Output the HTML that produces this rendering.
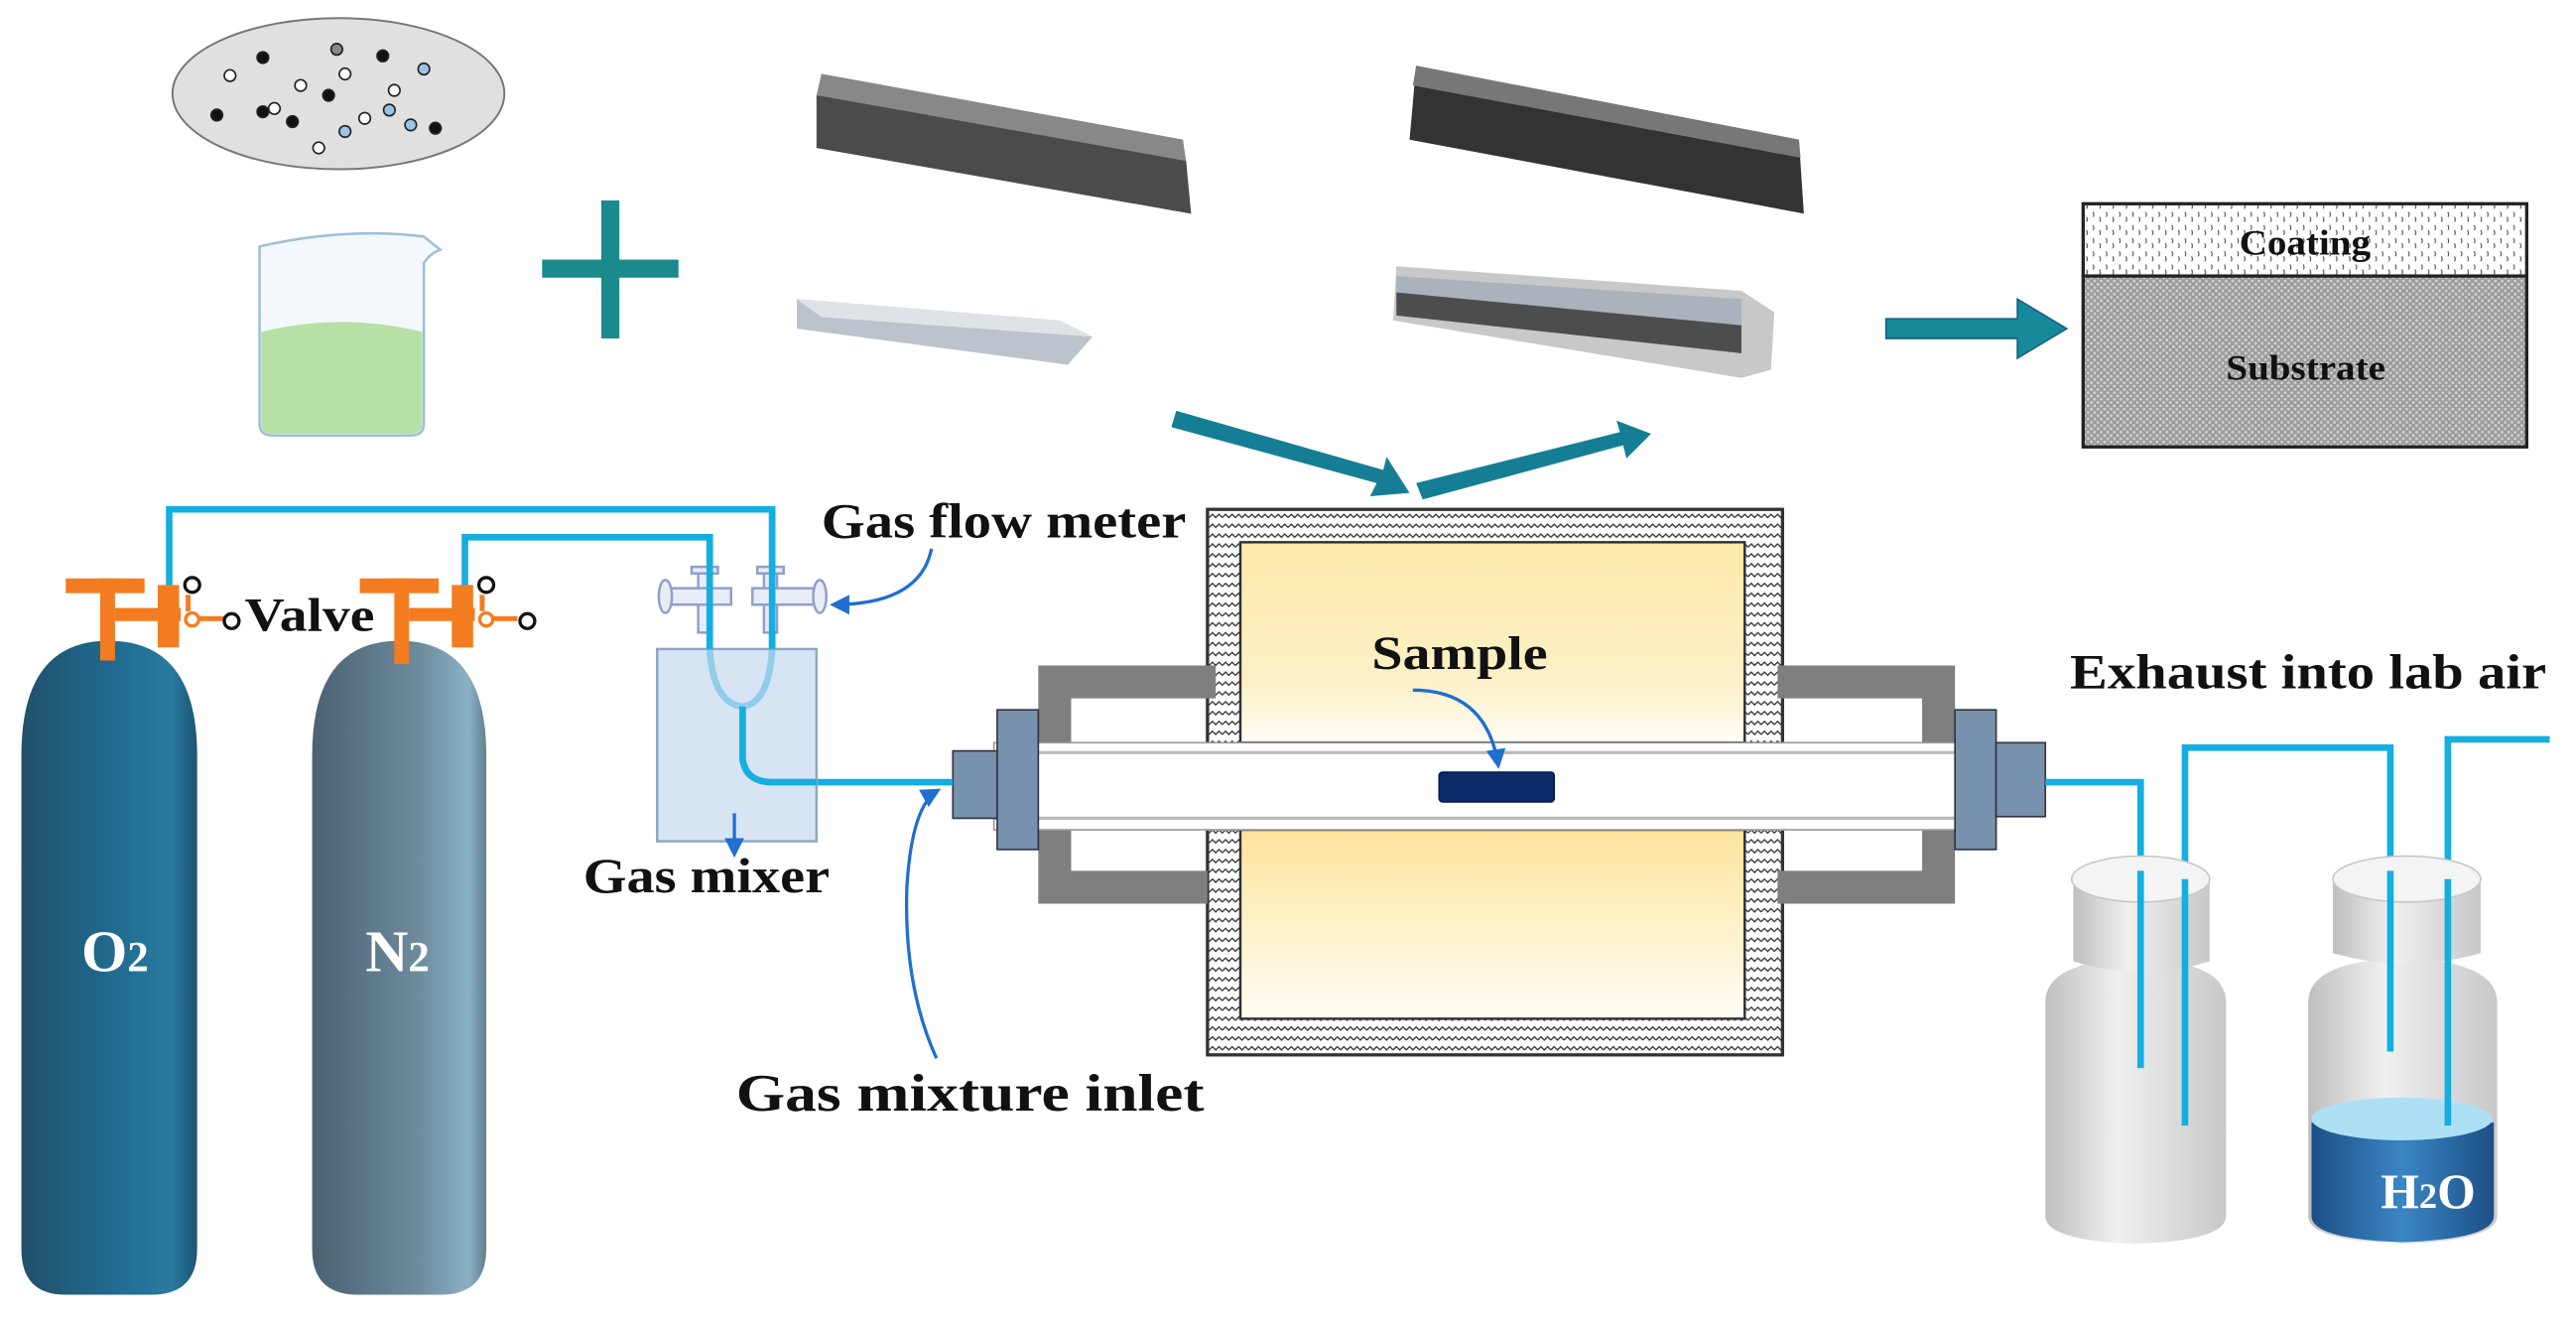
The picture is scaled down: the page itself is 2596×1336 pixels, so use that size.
<!DOCTYPE html>
<html><head><meta charset="utf-8"><style>html,body{margin:0;padding:0;background:#fff}svg{display:block}</style></head>
<body>
<svg width="2596" height="1336" viewBox="0 0 1568 807" preserveAspectRatio="none" xmlns="http://www.w3.org/2000/svg" font-family="Liberation Serif, serif" font-weight="bold">
<defs>
<linearGradient id="o2" x1="0" x2="1"><stop offset="0" stop-color="#22506a"/><stop offset="0.5" stop-color="#1f6a8e"/><stop offset="0.85" stop-color="#2a7aa0"/><stop offset="1" stop-color="#1c5574"/></linearGradient>
<linearGradient id="n2" x1="0" x2="1"><stop offset="0" stop-color="#4a6272"/><stop offset="0.6" stop-color="#6d8a9c"/><stop offset="0.9" stop-color="#8ab0c4"/><stop offset="1" stop-color="#61808f"/></linearGradient>
<linearGradient id="yel" x1="0" y1="0" x2="0" y2="1"><stop offset="0" stop-color="#fde9a8"/><stop offset="0.7" stop-color="#fdf0c8"/><stop offset="1" stop-color="#fffdf5"/></linearGradient>
<linearGradient id="yel2" x1="0" y1="0" x2="0" y2="1"><stop offset="0" stop-color="#fde49c"/><stop offset="1" stop-color="#fffdf5"/></linearGradient>
<linearGradient id="btl" x1="0" x2="1"><stop offset="0" stop-color="#bfbfbf"/><stop offset="0.4" stop-color="#f0f0f0"/><stop offset="1" stop-color="#c8c8c8"/></linearGradient>
<linearGradient id="wat" x1="0" x2="1"><stop offset="0" stop-color="#1d4f86"/><stop offset="0.5" stop-color="#3a86c4"/><stop offset="1" stop-color="#1d4f86"/></linearGradient>
<pattern id="ins" width="8" height="6" patternUnits="userSpaceOnUse"><rect width="8" height="6" fill="#fff"/><path d="M0 3 L2 1 L4 3 L6 1 L8 3" stroke="#333" stroke-width="0.8" fill="none"/></pattern>
<pattern id="dot" width="4" height="4" patternUnits="userSpaceOnUse"><rect width="4" height="4" fill="#9a9a9a"/><circle cx="1" cy="1" r="0.9" fill="#cfcfcf"/><circle cx="3" cy="3" r="0.9" fill="#cfcfcf"/></pattern>
<pattern id="coat" width="8" height="8" patternUnits="userSpaceOnUse"><rect width="8" height="8" fill="#fff"/><path d="M2 1 q1 2 0 3 M6 4 q1 2 0 3" stroke="#555" stroke-width="0.7" fill="none"/></pattern>
<marker id="ab" markerWidth="6" markerHeight="6" refX="5" refY="3" orient="auto"><path d="M0 0 L6 3 L0 6 z" fill="#1f6fd0"/></marker>
</defs>

<ellipse cx="206" cy="57" rx="101" ry="46" fill="#e0e0e0" stroke="#777" stroke-width="1.2"/>
<g stroke="#222" stroke-width="1">
<circle cx="140" cy="46" r="3.5" fill="#fff"/><circle cx="160" cy="35" r="3.5" fill="#111"/><circle cx="205" cy="30" r="3.5" fill="#888"/><circle cx="233" cy="34" r="3.5" fill="#111"/><circle cx="258" cy="42" r="3.5" fill="#9cc3e6"/>
<circle cx="183" cy="52" r="3.5" fill="#fff"/><circle cx="210" cy="45" r="3.5" fill="#fff"/><circle cx="200" cy="58" r="3.5" fill="#111"/><circle cx="240" cy="55" r="3.5" fill="#fff"/><circle cx="160" cy="68" r="3.5" fill="#111"/>
<circle cx="132" cy="70" r="3.5" fill="#111"/><circle cx="167" cy="66" r="3.5" fill="#fff"/><circle cx="178" cy="74" r="3.5" fill="#111"/><circle cx="210" cy="80" r="3.5" fill="#9cc3e6"/><circle cx="237" cy="67" r="3.5" fill="#9cc3e6"/>
<circle cx="250" cy="76" r="3.5" fill="#9cc3e6"/><circle cx="265" cy="78" r="3.5" fill="#111"/><circle cx="194" cy="90" r="3.5" fill="#fff"/><circle cx="222" cy="72" r="3.5" fill="#fff"/></g>

<path d="M158 150 L158 258 Q158 265 166 265 L250 265 Q258 265 258 258 L258 160 Q262 154 268 152 L258 144 Q210 138 158 150 Z" fill="#f2f8fc" stroke="#9cbfd4" stroke-width="1.5"/>
<path d="M159 202 Q208 190 257 202 L257 258 Q257 264 250 264 L166 264 Q159 264 159 258 Z" fill="#b6e0a4"/>
<rect x="330" y="158" width="83" height="11" fill="#1a8a8c"/><rect x="366" y="122" width="11" height="84" fill="#1a8a8c"/>

<polygon points="500,45 720,85 725,130 497,90" fill="#5a5a5a"/><polygon points="500,45 720,85 722,98 497,58" fill="#888"/><polygon points="497,58 722,98 725,130 497,90" fill="#4b4b4b"/>
<polygon points="485,182 645,195 665,205 650,222 485,200" fill="#bcc3cc"/><polygon points="485,182 645,195 665,205 500,193" fill="#dfe3e8"/>
<polygon points="862,40 1095,85 1098,130 858,85" fill="#333"/><polygon points="862,40 1095,85 1096,96 860,52" fill="#777"/>
<polygon points="850,162 1060,177 1080,190 1078,225 1060,230 848,195" fill="#c8c8c8"/><polygon points="850,168 1060,182 1060,215 850,190" fill="#aab2bd"/><polygon points="850,178 1060,198 1060,215 850,192" fill="#4d4d4d"/>

<polygon points="1148,194 1228,194 1228,182 1258,200 1228,218 1228,206 1148,206" fill="#168a99" stroke="#1b5f86" stroke-width="1"/>
<polygon points="716,250 842,286 844,278 858,300 834,302 838,294 713,260" fill="#157e94"/>
<polygon points="862,294 986,263 984,256 1005,264 990,279 988,271 866,304" fill="#157e94"/>

<rect x="1268" y="124" width="270" height="44" fill="url(#coat)" stroke="#222" stroke-width="2"/>
<rect x="1268" y="168" width="270" height="104" fill="url(#dot)" stroke="#222" stroke-width="2"/>
<text x="1363" y="155" font-size="22" textLength="80" lengthAdjust="spacingAndGlyphs" fill="#111">Coating</text>
<text x="1355" y="231" font-size="22" textLength="97" lengthAdjust="spacingAndGlyphs" fill="#111">Substrate</text>

<rect x="735" y="310" width="350" height="332" fill="url(#ins)" stroke="#333" stroke-width="2"/>
<rect x="755" y="330" width="307" height="122" fill="url(#yel)" stroke="#333" stroke-width="1.5"/>
<rect x="755" y="505" width="307" height="115" fill="url(#yel2)" stroke="#333" stroke-width="1.5"/>
<rect x="736" y="452" width="348" height="53" fill="#fff"/>
<path d="M632 405 L740 405 L740 425 L652 425 L652 452 L632 452 Z" fill="#7f7f7f"/>
<path d="M632 505 L652 505 L652 530 L735 530 L735 550 L632 550 Z" fill="#7f7f7f"/>
<path d="M1082 405 L1190 405 L1190 452 L1170 452 L1170 425 L1082 425 Z" fill="#7f7f7f"/>
<path d="M1170 505 L1190 505 L1190 550 L1082 550 L1082 530 L1170 530 Z" fill="#7f7f7f"/>
<rect x="605" y="452" width="610" height="53" fill="#fff" stroke="#999" stroke-width="1"/>
<line x1="605" y1="458" x2="1215" y2="458" stroke="#bbb" stroke-width="2"/><line x1="605" y1="498" x2="1215" y2="498" stroke="#bbb" stroke-width="2"/>
<rect x="580" y="457" width="27" height="41" fill="#7892ad" stroke="#334" stroke-width="1"/>
<rect x="607" y="432" width="25" height="85" fill="#7892ad" stroke="#334" stroke-width="1"/>
<rect x="1190" y="432" width="25" height="85" fill="#7892ad" stroke="#334" stroke-width="1"/>
<rect x="1215" y="452" width="30" height="45" fill="#7892ad" stroke="#334" stroke-width="1"/>
<rect x="876" y="470" width="70" height="18" rx="2" fill="#0d2a6b" stroke="#06174a"/>
<text x="835" y="407" font-size="29" textLength="107" lengthAdjust="spacingAndGlyphs" fill="#111">Sample</text>
<path d="M860 420 Q905 420 912 466" stroke="#1f6fd0" stroke-width="2" fill="none" marker-end="url(#ab)"/>

<path d="M13 460 Q13 390 66 390 Q120 390 120 460 L120 760 Q120 788 92 788 L40 788 Q13 788 13 760 Z" fill="url(#o2)"/>
<path d="M190 460 Q190 390 243 390 Q296 390 296 460 L296 760 Q296 788 268 788 L218 788 Q190 788 190 760 Z" fill="url(#n2)"/>
<text x="70" y="591" font-size="36" text-anchor="middle" fill="#fff">O<tspan font-size="26">2</tspan></text>
<text x="242" y="591" font-size="36" text-anchor="middle" fill="#fff">N<tspan font-size="26">2</tspan></text>

<g stroke="#14aee0" stroke-width="4" fill="none">
<path d="M103 372 L103 310 L470 310 L470 395 Q468 428 452 430 Q434 428 432 395 L432 327 L283 327 L283 372"/>
<path d="M452 430 L452 462 Q454 476 470 476 L580 476"/>
<path d="M1245 476 L1303 476 L1303 530"/><path d="M1330 535 L1330 455 L1455 455 L1455 530"/><path d="M1490 535 L1490 450 L1552 450"/>
</g>

<g fill="#f47c20">
<rect x="40" y="352" width="48" height="9"/><rect x="61" y="352" width="9" height="50"/><rect x="70" y="370" width="40" height="8"/><rect x="96" y="356" width="13" height="38"/>
<rect x="219" y="352" width="48" height="9"/><rect x="240" y="352" width="9" height="52"/><rect x="249" y="370" width="40" height="8"/><rect x="275" y="356" width="13" height="38"/>
<rect x="113" y="362" width="3" height="10"/><rect x="292" y="362" width="3" height="10"/><rect x="120" y="375" width="16" height="3"/><rect x="299" y="375" width="16" height="3"/>
</g>
<g fill="#fff" stroke="#f47c20" stroke-width="2"><circle cx="117" cy="377" r="4"/><circle cx="296" cy="377" r="4"/></g>
<g fill="#fff" stroke="#111" stroke-width="2"><circle cx="117" cy="356" r="4.5"/><circle cx="141" cy="378" r="4.5"/><circle cx="296" cy="356" r="4.5"/><circle cx="321" cy="378" r="4.5"/></g>
<text x="149" y="384" font-size="29" textLength="79" lengthAdjust="spacingAndGlyphs" fill="#111">Valve</text>

<rect x="400" y="395" width="97" height="117" fill="#c6d8ef" fill-opacity="0.7" stroke="#8fa7c4" stroke-width="1.5"/>
<path d="M452 430 L452 462 Q454 476 470 476 L497 476" stroke="#14aee0" stroke-width="4" fill="none"/>
<g stroke="#8fa0c8" stroke-width="1.5" fill="#e8ecf6">
<rect x="425" y="345" width="8" height="40"/><rect x="405" y="358" width="40" height="10"/><ellipse cx="405" cy="363" rx="4" ry="10"/><rect x="421" y="345" width="16" height="4"/>
<rect x="465" y="345" width="8" height="40"/><rect x="458" y="358" width="40" height="10"/><ellipse cx="499" cy="363" rx="4" ry="10"/><rect x="461" y="345" width="16" height="4"/>
</g>
<path d="M470 310 L470 395" stroke="#14aee0" stroke-width="4"/><path d="M432 327 L432 395" stroke="#14aee0" stroke-width="4"/>
<text x="500" y="327" font-size="30" textLength="222" lengthAdjust="spacingAndGlyphs" fill="#111">Gas flow meter</text>
<path d="M567 334 Q560 368 507 368" stroke="#1f6fd0" stroke-width="2" fill="none" marker-end="url(#ab)"/>
<path d="M447 495 L447 520" stroke="#1f6fd0" stroke-width="2" marker-end="url(#ab)"/>
<text x="355" y="543" font-size="30" textLength="150" lengthAdjust="spacingAndGlyphs" fill="#111">Gas mixer</text>
<path d="M570 644 Q550 600 552 540 Q555 490 571 481" stroke="#1f6fd0" stroke-width="2" fill="none" marker-end="url(#ab)"/>
<text x="448" y="676" font-size="32" textLength="285" lengthAdjust="spacingAndGlyphs" fill="#111">Gas mixture inlet</text>

<text x="1260" y="419" font-size="30" textLength="290" lengthAdjust="spacingAndGlyphs" fill="#111">Exhaust into lab air</text>
<path d="M1245 610 Q1245 585 1300 583 Q1355 585 1355 610 L1355 740 Q1355 755 1300 757 Q1245 755 1245 740 Z" fill="url(#btl)"/>
<path d="M1262 535 L1262 585 Q1303 598 1345 585 L1345 535 Z" fill="url(#btl)"/>
<ellipse cx="1303" cy="535" rx="42" ry="14" fill="#f4f4f4" stroke="#c8c8c8"/>
<path d="M1405 610 Q1405 585 1462 583 Q1520 585 1520 610 L1520 740 Q1520 755 1462 757 Q1405 755 1405 740 Z" fill="url(#btl)"/>
<path d="M1407 683 Q1462 695 1518 683 L1518 740 Q1518 754 1462 756 Q1407 754 1407 740 Z" fill="url(#wat)"/>
<ellipse cx="1462" cy="681" rx="55" ry="13" fill="#aee0f5"/>
<path d="M1420 535 L1420 580 Q1465 593 1510 580 L1510 535 Z" fill="url(#btl)"/>
<ellipse cx="1465" cy="535" rx="45" ry="14" fill="#f4f4f4" stroke="#c8c8c8"/>
<g stroke="#14aee0" stroke-width="4"><path d="M1303 530 L1303 650"/><path d="M1330 535 L1330 685"/><path d="M1455 530 L1455 640"/><path d="M1490 535 L1490 685"/></g>
<text x="1478" y="735" font-size="30" text-anchor="middle" fill="#fff">H<tspan font-size="22">2</tspan>O</text>
</svg>
</body></html>
